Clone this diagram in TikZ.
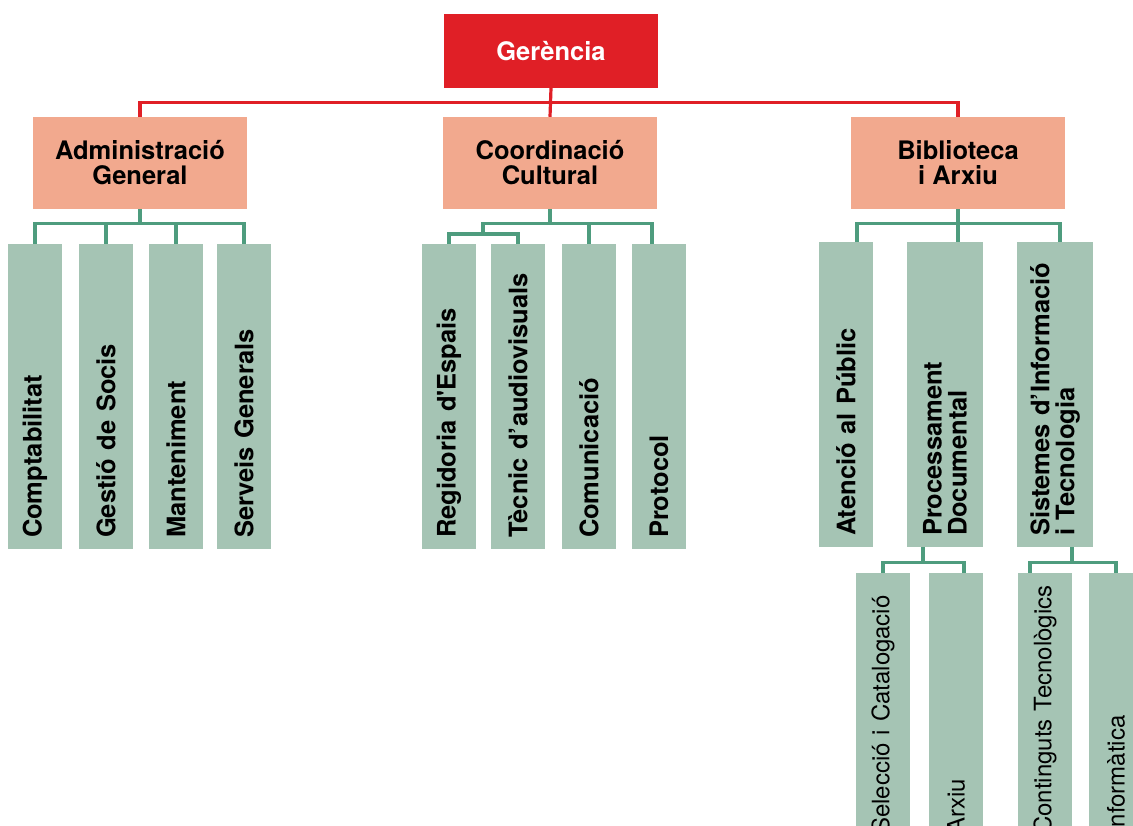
\documentclass[tikz,border=0pt]{standalone}
\usepackage{fontspec}
\setmainfont{TeX Gyre Heros}
\definecolor{gerred}{HTML}{E01F26}
\definecolor{salmon}{HTML}{F2A98E}
\definecolor{sage}{HTML}{A5C4B4}
\definecolor{lineg}{HTML}{4E9C7E}
\begin{document}
\begin{tikzpicture}[x=1pt,y=1pt,
    every node/.style={inner sep=0pt, font=\fontsize{25.5}{25}\selectfont\bfseries},
    topbox/.style={fill=gerred, text=white, minimum width=214, minimum height=74},
    headbox/.style={fill=salmon, minimum width=214, minimum height=92, align=center},
    tallbox/.style={fill=sage, rotate=90, minimum width=305, minimum height=54, text width=283, align=left},
    widebox/.style={tallbox, minimum height=76},
    lowbox/.style={fill=sage, rotate=90, minimum width=272, minimum height=54, text width=250, align=left,
      font=\fontsize{24}{24}\selectfont},
    redline/.style={draw=gerred, line width=3.2},
    greenline/.style={draw=lineg, line width=3.2}]
  \clip (0,0) rectangle (1133,825);
  \fill[white] (0,0) rectangle (1133,825);

  \node[topbox] (ger) at (551,774) {Gerència};

  \node[headbox] (adm) at (140,662) {Administració\\General};
  \node[headbox] (coo) at (550,662) {Coordinació\\Cultural};
  \node[headbox] (bib) at (958,662) {Biblioteca\\i Arxiu};

  % administracio
  \node[tallbox] (comp) at (35,428.5) {Comptabilitat};
  \node[tallbox] (gest) at (106,428.5) {Gestió de Socis};
  \node[tallbox] (mant) at (176,428.5) {Manteniment};
  \node[tallbox] (serv) at (244,428.5) {Serveis Generals};

  % coordinacio
  \node[tallbox] (regi) at (449,428.5) {Regidoria d\textquotesingle Espais};
  \node[tallbox] (tecn) at (518,428.5) {Tècnic d’audiovisuals};
  \node[tallbox] (comu) at (589,428.5) {Comunicació};
  \node[tallbox] (prot) at (659,428.5) {Protocol};

  % biblioteca
  \node[tallbox] (aten) at (846,430.5) {Atenció al Públic};
  \node[widebox] (proc) at (945,430.5) {Processament\\Documental};
  \node[widebox] (sist) at (1055,430.5) {Sistemes d’Informació\\i Tecnologia};

  \node[lowbox] (sele) at (883,116) {Selecció i Catalogació};
  \node[lowbox] (arxi) at (956,116) {Arxiu};
  \node[lowbox] (cont) at (1045,116) {Continguts Tecnològics};
  \node[lowbox] (info) at (1116,116) {Informàtica};

  \draw[redline] (ger.south) -- (coo.north);
  \draw[redline] (adm.north) -- ++(0,14) -| (bib.north);

  \draw[greenline] (adm.south) -- ++(0,-14) coordinate (abus);
  \draw[greenline] (comp.east) |- (abus) -| (serv.east);
  \draw[greenline] (gest.east) -- (gest.east |- abus);
  \draw[greenline] (mant.east) -- (mant.east |- abus);

  \draw[greenline] (coo.south) -- ++(0,-14) coordinate (cbus);
  \coordinate (csub) at (483,591);
  \draw[greenline] (csub) |- (cbus) -| ([xshift=-7]prot.east);
  \draw[greenline] (comu.east) -- (comu.east |- cbus);
  \draw[greenline] (regi.east) |- (csub) -| (tecn.east);

  \draw[greenline] (bib.south) -- ++(0,-14) coordinate (bbus);
  \draw[greenline] (bbus) -- (bbus |- proc.east);
  \draw[greenline] ([xshift=11]aten.east) |- (bbus) -| ([xshift=5]sist.east);

  \draw[greenline] ([xshift=-22]proc.west) -- ++(0,-15) coordinate (pbus);
  \draw[greenline] (sele.east) |- (pbus) -| ([xshift=8]arxi.east);
  \draw[greenline] ([xshift=17]sist.west) -- ++(0,-15) coordinate (sbus);
  \draw[greenline] ([xshift=-15]cont.east) |- (sbus) -| (info.east);
\end{tikzpicture}
\end{document}
